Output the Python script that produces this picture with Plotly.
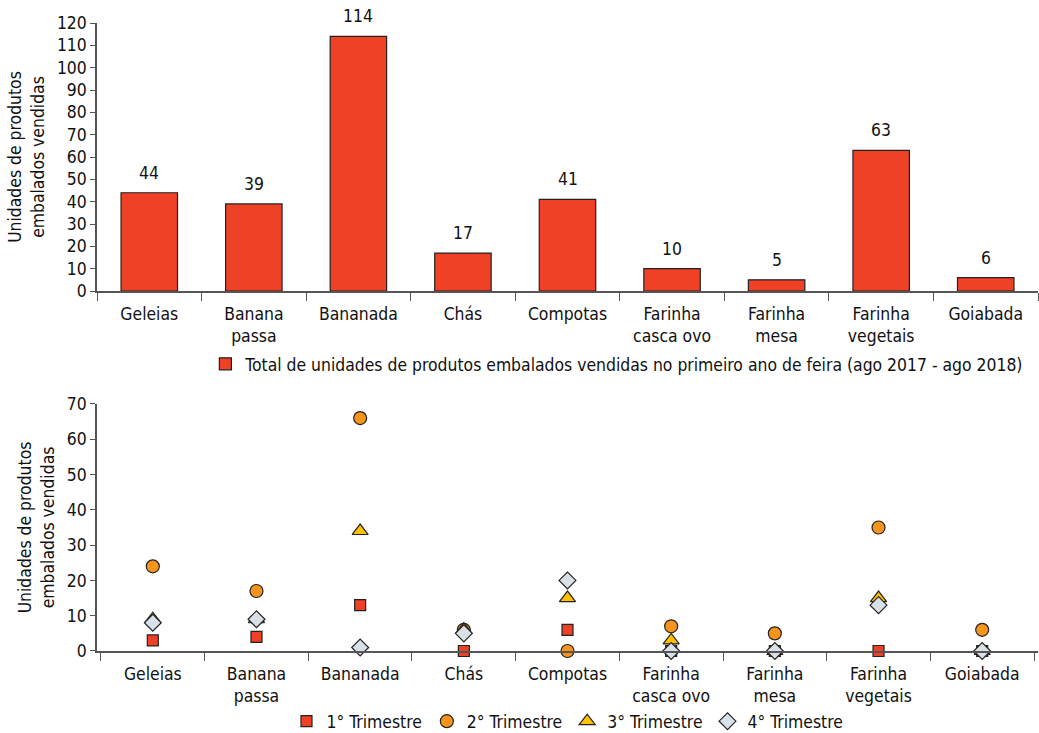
import plotly.graph_objects as go

categories = ["Geleias", "Banana<br>passa", "Bananada", "Chás", "Compotas",
              "Farinha<br>casca ovo", "Farinha<br>mesa", "Farinha<br>vegetais", "Goiabada"]
totals = [44, 39, 114, 17, 41, 10, 5, 63, 6]
tri1 = [3, 4, 13, 0, 6, 0, 0, 0, 0]
tri2 = [24, 17, 66, 6, 0, 7, 5, 35, 6]
tri3 = [9, 9, 34, 6, 15, 3, 0, 15, 0]
tri4 = [8, 9, 1, 5, 20, 0, 0, 13, 0]

total_name = "Total de unidades de produtos embalados vendidas no primeiro ano de feira (ago 2017 - ago 2018)"
quarter_names = ["1° Trimestre", "2° Trimestre", "3° Trimestre", "4° Trimestre"]

FONT = "DejaVu Sans Condensed, Open Sans, sans-serif"
RED = "#EE4125"
ORANGE = "#F7941D"
YELLOW = "#FFC000"
GRAYB = "#D9E1E8"
EDGE = "#222222"
FS = 17.4

fig = go.Figure()

fig.add_trace(go.Bar(
    x=categories, y=totals, name=total_name,
    marker=dict(color=RED, line=dict(color=EDGE, width=1.2)),
    xaxis="x", yaxis="y", legend="legend",
))
for c, v in zip(categories, totals):
    fig.add_annotation(x=c, y=v, xref="x", yref="y", text=str(v), showarrow=False,
                       yanchor="bottom", yshift=8, font=dict(size=FS, color="#111"))

series = [
    (tri1, quarter_names[0], "square", RED, 11),
    (tri2, quarter_names[1], "circle", ORANGE, 13),
    (tri3, quarter_names[2], "triangle-up", YELLOW, 14),
    (tri4, quarter_names[3], "diamond", GRAYB, 13),
]
for vals, nm, sym, col, sz in series:
    fig.add_trace(go.Scatter(
        x=categories, y=vals, name=nm, mode="markers",
        marker=dict(symbol=sym, color=col, size=sz, line=dict(color=EDGE, width=1.2)),
        cliponaxis=False, xaxis="x2", yaxis="y2", legend="legend2",
    ))

axis_common = dict(showline=True, linecolor="#555", linewidth=1.5, ticks="outside",
                   tickcolor="#555", showgrid=False, zeroline=False, automargin=False,
                   tickfont=dict(size=FS, color="#111"))
xcommon = dict(type="category", tickson="boundaries", ticklen=8, ticklabelstandoff=6, **axis_common)
ycommon = dict(ticklen=5, **axis_common)

# plot area spans y 23..733 px (height 710)
fig.update_layout(
    width=1039, height=733,
    margin=dict(l=97, r=1, t=23, b=0, autoexpand=False),
    template="none",
    paper_bgcolor="white", plot_bgcolor="white",
    font=dict(family=FONT, size=FS, color="#111"),
    bargap=0.46,
    xaxis=dict(domain=[0, 1], anchor="y", **xcommon),
    yaxis=dict(domain=[0.6225, 1], anchor="x", range=[0, 120], dtick=10,
               title=dict(text="Unidades de produtos<br>embalados vendidas", standoff=8,
                          font=dict(size=FS)), **ycommon),
    xaxis2=dict(domain=[0, 1], anchor="y2", **xcommon),
    yaxis2=dict(domain=[0.1155, 0.4634], anchor="x2", range=[0, 70], dtick=10,
                title=dict(text="Unidades de produtos<br>embalados vendidas", standoff=8,
                           font=dict(size=FS)), **ycommon),
    legend=dict(orientation="h", x=0.553, xanchor="center", y=0.5197, yanchor="middle",
                font=dict(size=FS), itemwidth=30, bgcolor="rgba(0,0,0,0)"),
    legend2=dict(orientation="h", x=0.5, xanchor="center", y=-0.009, yanchor="bottom",
                 font=dict(size=FS), itemwidth=30, tracegroupgap=0, bgcolor="rgba(0,0,0,0)"),
    showlegend=True,
)

fig.write_html("out.html")
